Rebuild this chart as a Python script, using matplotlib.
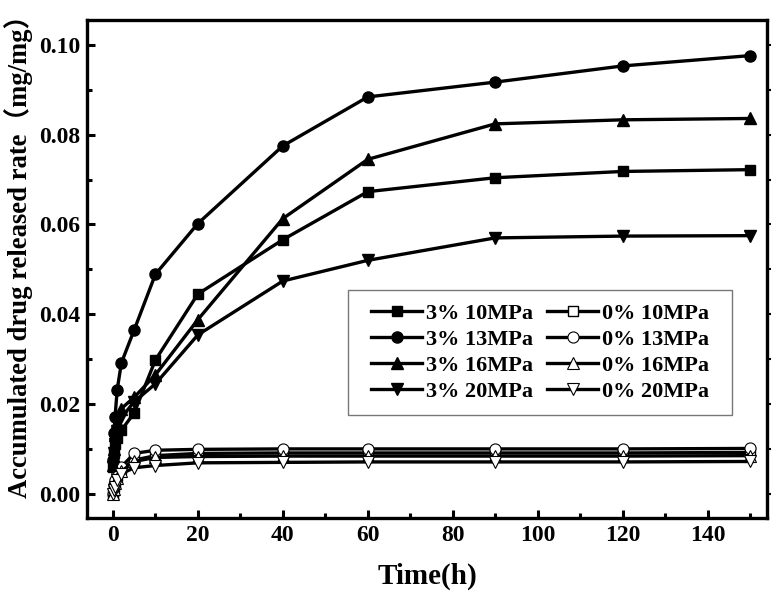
import matplotlib
matplotlib.use("Agg")
import matplotlib.pyplot as plt
from matplotlib.ticker import MultipleLocator

plt.rcParams['font.family'] = ['Liberation Serif', 'Noto Sans CJK SC']
plt.rcParams['font.weight'] = 'bold'

time = [0, 0.25, 0.5, 1, 2, 5, 10, 20, 40, 60, 90, 120, 150]

# 3% drug loading
p3_10 = [0.0060, 0.0090, 0.0110, 0.0125, 0.0142, 0.0180, 0.0298, 0.0445, 0.0566, 0.0673, 0.0704, 0.0718, 0.0722]
p3_13 = [0.0075, 0.0135, 0.0172, 0.0232, 0.0292, 0.0365, 0.0489, 0.0602, 0.0775, 0.0884, 0.0917, 0.0953, 0.0976]
p3_16 = [0.0065, 0.0100, 0.0130, 0.0160, 0.0190, 0.0215, 0.0265, 0.0388, 0.0613, 0.0745, 0.0824, 0.0833, 0.0836]
p3_20 = [0.0060, 0.0090, 0.0110, 0.0140, 0.0170, 0.0205, 0.0245, 0.0354, 0.0474, 0.0520, 0.0570, 0.0574, 0.0575]

# 0% drug loading
p0_10 = [0.0, 0.0015, 0.0025, 0.0040, 0.0055, 0.0075, 0.0085, 0.0090, 0.0091, 0.0091, 0.0091, 0.0091, 0.0092]
p0_13 = [0.0, 0.0020, 0.0030, 0.0045, 0.0060, 0.0090, 0.0097, 0.0099, 0.0100, 0.0100, 0.0100, 0.0100, 0.0101]
p0_16 = [0.0, 0.0010, 0.0025, 0.0035, 0.0050, 0.0072, 0.0081, 0.0083, 0.0084, 0.0084, 0.0084, 0.0084, 0.0085]
p0_20 = [0.0, 0.0008, 0.0015, 0.0030, 0.0045, 0.0058, 0.0063, 0.0069, 0.0070, 0.0071, 0.0071, 0.0071, 0.0072]

fig = plt.figure(figsize=(7.74, 5.97), dpi=100)
ax = fig.add_axes([0.113, 0.133, 0.878, 0.834])

lw = 2.4
ms = 8
ax.plot(time, p3_10, color='k', lw=lw, marker='s', ms=ms - 1, label='3% 10MPa')
ax.plot(time, p0_10, color='k', lw=lw, marker='s', ms=ms - 1, mfc='white', label='0% 10MPa')
ax.plot(time, p3_13, color='k', lw=lw, marker='o', ms=ms, label='3% 13MPa')
ax.plot(time, p0_13, color='k', lw=lw, marker='o', ms=ms, mfc='white', mew=0.8, label='0% 13MPa')
ax.plot(time, p3_16, color='k', lw=lw, marker='^', ms=ms + 1, label='3% 16MPa')
ax.plot(time, p0_16, color='k', lw=lw, marker='^', ms=ms + 1, mfc='white', mew=0.8, label='0% 16MPa')
ax.plot(time, p3_20, color='k', lw=lw, marker='v', ms=ms + 1, label='3% 20MPa')
ax.plot(time, p0_20, color='k', lw=lw, marker='v', ms=ms + 1, mfc='white', mew=0.8, label='0% 20MPa')

ax.set_xlim(-6, 154)
ax.set_ylim(-0.0053, 0.1056)
ax.xaxis.set_major_locator(MultipleLocator(20))
ax.xaxis.set_minor_locator(MultipleLocator(10))
ax.yaxis.set_major_locator(MultipleLocator(0.02))
ax.yaxis.set_minor_locator(MultipleLocator(0.01))
ax.yaxis.set_major_formatter(matplotlib.ticker.FormatStrFormatter('%.2f'))

for s in ax.spines.values():
    s.set_linewidth(2.4)
ax.tick_params(which='major', direction='in', length=6, width=2.2, labelsize=17, pad=5)
ax.tick_params(which='minor', direction='in', length=3.5, width=2.2)

sec = ax.secondary_yaxis('right')
sec.yaxis.set_major_locator(MultipleLocator(0.01))
sec.tick_params(direction='out', length=3, width=1.5, labelright=False)
sec.spines['right'].set_visible(False)

ax.set_xlabel('Time(h)', fontsize=21, fontweight='bold', labelpad=12)
ax.set_ylabel('Accumulated drug released rate（mg/mg）', fontsize=19.2, fontweight='bold')
ax.yaxis.set_label_coords(-0.08, 0.538)

# legend order: 3% left column, 0% right column
h, l = ax.get_legend_handles_labels()
order = [0, 2, 4, 6, 1, 3, 5, 7]
leg = ax.legend([h[i] for i in order], [l[i] for i in order], ncol=2,
                loc='upper left', bbox_to_anchor=(0.398, 0.4575),
                fontsize=16, frameon=True, fancybox=False, edgecolor='#555555',
                handlelength=2.3, columnspacing=0.65, labelspacing=0.25,
                handletextpad=0.15, borderpad=0.6, borderaxespad=0)
frame = leg.get_frame()
frame.set_linewidth(1.0)
# wider side padding than top/bottom, like the original box
frame.set_boxstyle('square', pad=0.45)
frame.set_mutation_aspect(0.001)
for t in leg.get_texts():
    t.set_fontweight('bold')

plt.savefig('out.png', dpi=100)
